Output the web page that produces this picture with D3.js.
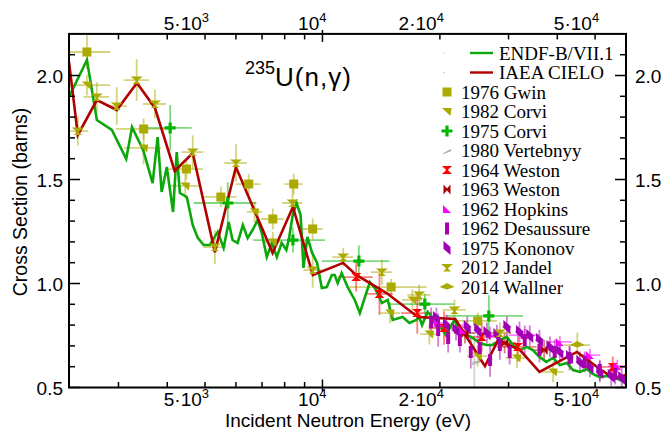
<!DOCTYPE html>
<html>
<head>
<meta charset="utf-8">
<script src="https://cdn.jsdelivr.net/npm/d3@7"></script>
<style>
  body { margin: 0; background: #fff; }
  text { font-family: "Liberation Sans", Arial, Helvetica, sans-serif; }
  .serif { font-family: "Liberation Serif", "Times New Roman", serif; }
</style>
</head>
<body>
<svg id="chart" width="665" height="432"></svg>
<script>
// ---- evaluated cross sections (energy in eV, cross section in barns) ----
const endfE = [2240,2490,2640,2885,3140,3250,3470,3670,3780,3870,3990,4140,4230,4310,4490,4650,4790,4960,5140,5390,5580,5750,5880,6060,6250,6430,6620,6820,6990,7200,7420,7640,7860,8080,8220,8390,8580,8790,8940,9150,9410,9690,9960,10260,10570,10750,10940,11200,11600,12100,12470,12850,13230,13630,14200,14700,15140,16050,16710,17400,17700,18000,18600,19100,19670,20100,20700,21800,22500,23500,24300,25300,26300,27300,28500,29700,30800,32100,33400,34600,36000,37500,39000,40600,42300,43900,45700,47600,49300,51400,53600,55500,58000,60000];
const endfXs = [1.897,2.075,1.786,1.738,1.599,1.752,1.642,1.483,1.704,1.440,1.560,1.344,1.632,1.435,1.416,1.281,1.219,1.185,1.185,1.248,1.171,1.296,1.209,1.195,1.281,1.219,1.257,1.305,1.243,1.127,1.195,1.127,1.195,1.161,1.224,1.329,1.387,1.329,1.075,1.224,1.147,1.099,0.978,0.983,1.041,1.041,1.002,1.050,0.983,0.921,0.858,0.935,1.007,0.978,0.906,0.921,0.825,0.839,0.810,0.825,0.839,0.800,0.863,0.839,0.786,0.791,0.752,0.825,0.767,0.752,0.738,0.714,0.704,0.704,0.728,0.743,0.704,0.680,0.695,0.680,0.647,0.623,0.642,0.608,0.618,0.584,0.575,0.589,0.565,0.550,0.555,0.550,0.536,0.522];

const cieloE = [2240,2360,2640,2970,3345,3720,4180,4650,5300,6000,7450,8400,9450,11300,12200,14600,17570,21900,26100,28200,32100,36000,44900,50500,55500,60000];
const cieloXs = [2.065,1.714,1.882,1.834,1.964,1.844,1.541,1.627,1.151,1.560,1.147,1.368,1.041,1.099,1.041,0.954,0.839,0.829,0.603,0.728,0.680,0.575,0.671,0.600,0.546,0.560];

// ---- measurements: energy, cross section, energy half-width, cross-section uncertainty ----
const gwinE = [2490,3480,4480,5490,6470,7460,8440,9440,15000,25000];
const gwinXs = [2.113,1.743,1.550,1.416,1.478,1.310,1.478,1.262,0.983,0.820];
const gwinDE = [370,530,460,530,470,500,450,550,3500,3000];
const gwinDXs = [0.08,0.05,0.05,0.05,0.05,0.05,0.05,0.05,0.04,0.04];

const corvi82E = [2490,3480,4450,6700,7460,14900,17000,18800,25000,31500,39000];
const corvi82Xs = [1.954,1.652,1.469,1.344,1.199,0.858,0.921,0.757,0.651,0.642,0.575];
const corvi82DE = [370,380,420,300,350,900,1000,1000,1500,2000,2500];
const corvi82DXs = [0.05,0.08,0.06,0.05,0.05,0.05,0.05,0.05,0.05,0.05,0.05];

const corvi75E = [4070,5720,8400,12400,18300,26700];
const corvi75Xs = [1.748,1.387,1.209,1.108,0.901,0.844];
const corvi75DE = [550,1050,1750,2450,3450,6000];
const corvi75DXs = [0.11,0.10,0.06,0.075,0.05,0.10];

const vertebnyyE = [24500];
const vertebnyyXs = [0.623];
const vertebnyyDE = [300];
const vertebnyyDXs = [0.13];

const weston64E = [12200,14000,17500,20500,25600,31700,55500];
const weston64Xs = [1.031,0.950,0.858,0.786,0.743,0.695,0.599];
const weston64DE = [1250,1150,1600,1750,2600,3700,4500];
const weston64DXs = [0.07,0.10,0.10,0.08,0.07,0.07,0.05];

const weston63E = [23200,29300,37000];
const weston63Xs = [0.762,0.714,0.680];
const weston63DE = [1500,2000,2500];
const weston63DXs = [0.05,0.05,0.05];

const hopkinsE = [19800,22800,26900,33000,40600,48500,57000];
const hopkinsXs = [0.810,0.776,0.762,0.752,0.719,0.656,0.603];
const hopkinsDE = [1000,1200,1800,3000,3000,3000,3000];
const hopkinsDXs = [0.03,0.03,0.03,0.03,0.03,0.03,0.03];

const desaussureE = [19000,19800,21000,22500,24000,25300,26900,28500,30200,33000,36000,39400,43000,47000,51400,56300];
const desaussureXs = [0.815,0.776,0.738,0.728,0.671,0.690,0.632,0.704,0.671,0.728,0.680,0.671,0.642,0.623,0.584,0.565];
const desaussureDE = [0,0,0,0,0,0,0,0,0,0,0,0,0,0,0,0];
const desaussureDXs = [0.07,0.08,0.07,0.06,0.08,0.07,0.08,0.07,0.06,0.07,0.06,0.06,0.06,0.05,0.05,0.05];

const kononovE = [19600,20800,22000,23500,25000,26400,28000,29700,32000,34000,36000,38300,40600,43000,45700,48500,51400,55000,58500];
const kononovXs = [0.834,0.800,0.776,0.791,0.776,0.762,0.752,0.791,0.767,0.748,0.728,0.695,0.671,0.647,0.623,0.599,0.575,0.555,0.546];
const kononovDE = [500,500,600,600,600,700,700,800,800,900,900,1000,1000,1100,1100,1200,1200,1300,1300];
const kononovDXs = [0.05,0.05,0.05,0.05,0.05,0.05,0.05,0.05,0.05,0.05,0.05,0.05,0.05,0.05,0.05,0.05,0.05,0.05,0.05];

const jandelE = [2360,2640,2970,3340,3720,4650,5300,6000,8380,9440,11300,14200,17700,21800,28500];
const jandelXs = [1.733,1.897,1.853,1.978,1.863,1.632,1.175,1.579,1.387,1.065,1.127,1.055,0.945,0.873,0.762];
const jandelDE = [150,200,180,250,250,300,350,400,500,500,700,900,1200,1500,2000];
const jandelDXs = [0.07,0.07,0.09,0.10,0.07,0.08,0.08,0.09,0.07,0.085,0.045,0.06,0.05,0.05,0.05];

const wallnerE = [45000];
const wallnerXs = [0.704];
const wallnerDE = [3500];
const wallnerDXs = [0.06];

// ---- axis ticks ----
const xMajorTicks = [5000, 10000, 20000, 50000];
const xMajorBase = ["5·10", "10", "2·10", "5·10"];
const xMajorExp = ["3", "4", "4", "4"];
const xMinorTicks = [3000,4000,6000,7000,8000,9000,30000,40000];
const yMajorTicks = [0.5, 1.0, 1.5, 2.0];
const yTickLabels = ["0.5", "1.0", "1.5", "2.0"];
const yMinorTicks = [0.6,0.7,0.8,0.9,1.1,1.2,1.3,1.4,1.6,1.7,1.8,1.9,2.1];

// ---- marker glyphs ----
const glyph = {
  square: "M-4.5,-4.5h9v9h-9z",
  triDown: "M-5,-3.5L4.5,-3.5L3.5,4.5Z",
  plus: "M-1.6,-5.5h3.2v3.9h3.9v3.2h-3.9v3.9h-3.2v-3.9h-3.9v-3.2h3.9z",
  slash: "M-4.5,3L4,-1.5L4.5,0.5L-3.5,3.5Z",
  hourglass: "M-5,-4L5,-4L0.8,0L5,4L-5,4L-0.8,0Z",
  bowtie: "M-3.5,-5L0,-1L3.5,-5L3.5,5L0,1L-3.5,5Z",
  cornerTri: "M-4,-4L-4,4L4,4Z",
  bar: "M-2,-6h4v12h-4z",
  slant: "M-3.5,-7L3.5,-1L3.5,7L-3.5,1Z",
  goblet: "M-6,-3.5L6,-3.5L1.2,0.5L1.2,1.5L4,4L-4,4L-1.2,1.5L-1.2,0.5Z",
  flatDiamond: "M-7.5,0L0,-4L7.5,0L0,2.5Z"
};

const olive = "#aaaa00";
const sets = [
  {name: "1976 Gwin",       E: gwinE,       xs: gwinXs,       dE: gwinDE,       dxs: gwinDXs,       color: olive,     glyph: "square"},
  {name: "1982 Corvi",      E: corvi82E,    xs: corvi82Xs,    dE: corvi82DE,    dxs: corvi82DXs,    color: olive,     glyph: "triDown"},
  {name: "1975 Corvi",      E: corvi75E,    xs: corvi75Xs,    dE: corvi75DE,    dxs: corvi75DXs,    color: "#00b400", glyph: "plus"},
  {name: "1980 Vertebnyy",  E: vertebnyyE,  xs: vertebnyyXs,  dE: vertebnyyDE,  dxs: vertebnyyDXs,  color: "#aaaaaa", glyph: "slash"},
  {name: "1964 Weston",     E: weston64E,   xs: weston64Xs,   dE: weston64DE,   dxs: weston64DXs,   color: "#ff0000", glyph: "hourglass"},
  {name: "1963 Weston",     E: weston63E,   xs: weston63Xs,   dE: weston63DE,   dxs: weston63DXs,   color: "#aa0000", glyph: "bowtie"},
  {name: "1962 Hopkins",    E: hopkinsE,    xs: hopkinsXs,    dE: hopkinsDE,    dxs: hopkinsDXs,    color: "#ff00ff", glyph: "cornerTri"},
  {name: "1962 Desaussure", E: desaussureE, xs: desaussureXs, dE: desaussureDE, dxs: desaussureDXs, color: "#aa00aa", glyph: "bar"},
  {name: "1975 Kononov",    E: kononovE,    xs: kononovXs,    dE: kononovDE,    dxs: kononovDXs,    color: "#a000b4", glyph: "slant"},
  {name: "2012 Jandel",     E: jandelE,     xs: jandelXs,     dE: jandelDE,     dxs: jandelDXs,     color: olive,     glyph: "goblet"},
  {name: "2014 Wallner",    E: wallnerE,    xs: wallnerXs,    dE: wallnerDE,    dxs: wallnerDXs,    color: olive,     glyph: "flatDiamond"}
];
const curves = [
  {name: "ENDF-B/VII.1", E: endfE,  xs: endfXs,  color: "#0aa80a"},
  {name: "IAEA CIELO",   E: cieloE, xs: cieloXs, color: "#b00000"}
];

// ---- layout ----
const L = 69, R = 626, T = 33.9, B = 387.5;
const x = d3.scaleLog().domain([2240, 60000]).range([L, R]);
const y = d3.scaleLinear().domain([0.5, 2.2]).range([B, T]);

const svg = d3.select("#chart");
svg.append("defs").append("clipPath").attr("id", "plotClip")
  .append("rect").attr("x", L).attr("y", T).attr("width", R - L).attr("height", B - T);

const plot = svg.append("g").attr("clip-path", "url(#plotClip)");

// error bars
sets.forEach(s => {
  const g = plot.append("g").attr("stroke", s.color).attr("stroke-opacity", 0.5).attr("stroke-width", 1.8);
  s.E.forEach((e, i) => {
    if (s.dE[i] > 0) {
      g.append("line").attr("x1", x(e - s.dE[i])).attr("x2", x(e + s.dE[i]))
        .attr("y1", y(s.xs[i])).attr("y2", y(s.xs[i]));
    }
    g.append("line").attr("x1", x(e)).attr("x2", x(e))
      .attr("y1", y(s.xs[i] - s.dxs[i])).attr("y2", y(s.xs[i] + s.dxs[i]));
  });
});

// evaluated curves
const line = d3.line().x(d => x(d[0])).y(d => y(d[1]));
curves.forEach(c => {
  plot.append("path").datum(c.E.map((e, i) => [e, c.xs[i]]))
    .attr("d", line).attr("fill", "none").attr("stroke", c.color)
    .attr("stroke-width", 2.6).attr("stroke-linejoin", "miter");
});

// markers
sets.forEach(s => {
  plot.append("g").selectAll("path").data(s.E.map((e, i) => [e, s.xs[i]])).join("path")
    .attr("d", glyph[s.glyph]).attr("fill", s.color)
    .attr("transform", d => `translate(${x(d[0])},${y(d[1])})`);
});

// ---- frame and ticks ----
const axes = svg.append("g").attr("stroke", "#000");
axes.append("rect").attr("x", L).attr("y", T).attr("width", R - L).attr("height", B - T)
  .attr("fill", "none").attr("stroke-width", 2);

const xTicks = xMinorTicks.concat(xMajorTicks);
xTicks.forEach(v => {
  const len = v === 10000 ? 8 : 5.5;
  axes.append("line").attr("x1", x(v)).attr("x2", x(v)).attr("y1", B + (v === 10000 ? 4 : 0)).attr("y2", B - len).attr("stroke-width", 1.5);
  axes.append("line").attr("x1", x(v)).attr("x2", x(v)).attr("y1", T - (v === 10000 ? 4 : 0)).attr("y2", T + len).attr("stroke-width", 1.5);
});
yMajorTicks.concat(yMinorTicks).forEach(v => {
  const len = yMajorTicks.includes(v) ? 11 : 6;
  axes.append("line").attr("x1", L).attr("x2", L + len).attr("y1", y(v)).attr("y2", y(v)).attr("stroke-width", 1.5);
  axes.append("line").attr("x1", R).attr("x2", R - len).attr("y1", y(v)).attr("y2", y(v)).attr("stroke-width", 1.5);
});

// tick labels
const labels = svg.append("g").attr("font-size", 19).attr("fill", "#000");
xMajorTicks.forEach((v, i) => {
  [406, 30].forEach(yy => {
    const t = labels.append("text").attr("x", x(v) + 4).attr("y", yy).attr("text-anchor", "end");
    t.append("tspan").text(xMajorBase[i]);
    t.append("tspan").attr("dy", -8).attr("font-size", 13).text(xMajorExp[i]);
  });
});
yMajorTicks.forEach((v, i) => {
  labels.append("text").attr("x", 63).attr("y", y(v) + 7).attr("text-anchor", "end").text(yTickLabels[i]);
  labels.append("text").attr("x", 635).attr("y", y(v) + 7).attr("text-anchor", "start").text(yTickLabels[i]);
});

// axis titles
labels.append("text").attr("x", 348).attr("y", 427).attr("text-anchor", "middle")
  .attr("font-size", 19).text("Incident Neutron Energy (eV)");
labels.append("text").attr("transform", "translate(27,202) rotate(-90)").attr("text-anchor", "middle")
  .attr("font-size", 19.5).text("Cross Section (barns)");

// reaction label
const title = svg.append("text").attr("x", 245).attr("y", 86).attr("font-size", 26);
title.append("tspan").attr("dy", -12).attr("font-size", 18).text("235");
title.append("tspan").attr("dy", 12).attr("letter-spacing", 1).text("U(n,γ)");

// ---- legend ----
const legend = svg.append("g").attr("class", "serif").attr("font-size", 19);
const rowY = i => 53 + i * 19.5;
curves.forEach((c, i) => {
  const yy = rowY(i);
  legend.append("circle").attr("cx", 444).attr("cy", yy).attr("r", 0.8).attr("fill", c.color).attr("fill-opacity", 0.3);
  legend.append("line").attr("x1", 470).attr("x2", 493).attr("y1", yy).attr("y2", yy)
    .attr("stroke", c.color).attr("stroke-width", 2.4);
  legend.append("text").attr("class", "serif").attr("x", 499).attr("y", yy + 6.5).text(c.name);
});
sets.forEach((s, j) => {
  const yy = rowY(j + 2);
  legend.append("path").attr("d", glyph[s.glyph]).attr("fill", s.color)
    .attr("transform", `translate(447,${yy})`);
  legend.append("text").attr("class", "serif").attr("x", 461).attr("y", yy + 6.5).text(s.name);
});
</script>
</body>
</html>
